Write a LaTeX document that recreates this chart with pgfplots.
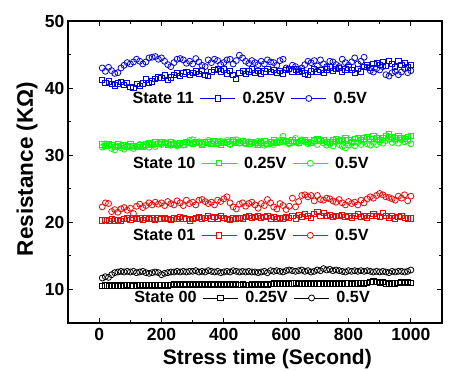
\documentclass[border=0pt]{standalone}
\usepackage{fontspec}
\setmainfont{Liberation Sans}
\usepackage{pgfplots}
\usepackage{pgfplotstable}
\pgfplotsset{compat=1.18}

\pgfplotstableread{
x b25 b5 g25 g5 r25 r5 k25 k5
10 41.2 43.0 31.6 31.2 20.3 22.3 10.5 11.7
20 40.8 42.5 31.4 31.7 20.4 22.9 10.6 11.9
30 41.0 43.1 31.7 31.4 20.2 22.8 10.5 11.8
40 40.6 42.6 31.5 31.0 20.5 21.6 10.6 12.2
50 40.4 42.2 31.3 30.8 20.3 21.9 10.5 12.5
60 40.7 42.3 31.6 31.3 20.4 21.5 10.6 12.6
70 40.9 43.0 31.4 31.1 20.2 22.0 10.5 12.7
80 40.5 43.4 31.5 30.9 20.5 22.2 10.6 12.6
90 40.8 43.8 31.3 31.4 20.6 21.8 10.7 12.7
100 40.2 43.6 31.6 31.2 20.4 22.1 10.6 12.6
110 40.0 43.9 31.4 31.0 20.7 21.3 10.5 12.7
120 40.6 44.3 31.2 31.3 20.5 22.4 10.6 12.5
130 40.3 44.0 31.5 31.6 20.6 22.7 10.7 12.6
140 40.7 43.6 31.3 31.4 20.4 22.2 10.6 12.7
150 41.3 43.9 31.6 31.5 20.7 22.5 10.7 12.5
160 40.8 44.5 31.8 31.2 20.5 22.9 10.6 12.4
170 41.0 44.6 31.5 31.7 20.6 22.6 10.7 12.5
180 41.4 44.7 31.9 31.3 20.4 23.0 10.6 12.6
190 41.6 44.3 31.7 31.8 20.6 22.7 10.7 12.5
200 41.5 44.5 32.0 31.6 20.5 22.9 10.6 12.2
210 41.9 44.0 31.8 31.9 20.7 22.5 10.7 12.4
220 41.2 43.5 31.6 31.7 20.5 23.1 10.6 12.5
230 41.6 43.2 31.9 31.5 20.4 22.8 10.7 12.6
240 42.0 43.8 31.7 31.8 20.6 22.6 10.8 12.6
250 42.3 44.3 31.5 31.4 20.5 23.2 10.7 12.7
260 41.8 44.4 31.8 31.6 20.8 22.9 10.8 12.6
270 42.2 44.2 31.6 31.5 20.6 22.5 10.7 12.7
280 42.4 43.7 32.0 31.9 20.5 23.3 10.8 12.6
290 42.0 44.0 31.8 32.2 20.3 22.8 10.7 12.7
300 42.3 43.6 31.7 32.3 20.5 23.0 10.8 12.7
310 42.5 44.4 32.0 31.8 20.7 22.6 10.7 12.8
320 42.1 43.9 31.8 32.0 20.8 23.3 10.8 12.6
330 42.6 43.4 31.6 31.7 20.6 23.4 10.7 12.7
340 42.0 43.2 32.0 31.9 20.7 23.1 10.8 12.6
350 41.8 44.2 31.9 32.2 20.9 22.8 10.7 12.8
360 42.4 43.8 31.7 31.8 20.6 23.0 10.8 12.7
370 42.7 44.3 32.1 32.0 20.8 22.6 10.7 12.6
380 42.9 44.1 31.9 31.7 20.6 23.3 10.8 12.7
390 42.5 43.5 31.6 32.1 21.0 23.1 10.7 12.5
400 42.8 43.8 31.8 31.9 20.7 23.5 10.8 12.6
410 42.2 44.2 32.0 32.2 20.5 23.8 10.7 12.7
420 42.6 44.3 31.7 31.6 20.4 22.9 10.8 12.6
430 42.0 43.6 32.2 32.0 20.6 22.3 10.7 12.8
440 41.4 44.1 31.9 32.3 20.5 22.0 10.8 12.7
450 42.3 44.9 31.8 31.8 20.7 22.7 10.7 12.6
460 42.6 44.5 32.1 32.1 20.6 22.9 10.8 12.7
470 42.1 44.0 31.9 31.7 20.8 22.4 10.7 12.6
480 42.5 43.7 31.7 32.0 20.9 22.8 10.7 12.7
490 42.8 44.1 32.0 31.9 20.7 23.0 10.8 12.6
500 42.3 43.8 31.8 31.6 20.8 22.6 10.7 12.6
510 42.6 43.5 31.6 32.1 20.9 22.1 10.8 12.5
520 42.2 44.0 31.9 31.8 20.7 22.8 10.7 12.6
530 42.5 43.6 32.1 31.5 20.8 22.5 10.8 12.7
540 42.9 44.2 31.7 31.7 21.0 23.4 10.7 12.5
550 42.4 43.9 31.9 31.9 20.6 22.9 10.8 12.8
560 42.7 43.8 32.2 31.6 20.8 22.3 10.9 12.7
570 42.3 43.4 31.8 32.0 20.5 22.0 10.8 12.8
580 42.6 44.1 32.0 32.2 20.7 22.8 10.9 12.7
590 42.2 44.3 32.3 32.8 20.6 22.5 10.8 12.6
600 42.7 43.0 32.1 32.0 20.8 21.9 10.9 12.8
610 42.9 42.8 31.9 31.7 20.7 22.4 10.8 12.9
620 42.5 43.4 32.2 31.9 20.9 23.6 10.9 12.8
630 42.8 43.2 32.0 32.5 20.6 22.3 11.0 12.7
640 42.4 42.8 31.8 31.8 21.1 23.1 10.8 12.8
650 42.6 43.0 32.1 32.3 20.8 24.0 10.9 12.9
660 42.2 43.5 32.3 32.0 21.3 24.1 10.8 12.7
670 42.0 44.0 32.0 31.7 20.9 23.8 10.9 12.8
680 42.5 43.8 31.8 31.9 20.7 24.0 10.8 12.6
690 42.9 44.1 32.2 32.2 21.2 23.2 10.9 12.7
700 42.4 43.3 32.4 31.6 21.5 24.0 10.8 12.9
710 42.7 44.2 32.1 32.3 21.0 23.4 10.9 12.8
720 42.3 43.6 32.3 31.8 21.4 23.3 10.8 13.1
730 42.8 43.2 32.0 31.5 20.9 23.6 10.9 12.9
740 43.1 44.0 31.9 31.7 21.1 23.5 10.8 13.0
750 42.6 43.9 32.2 31.4 20.8 23.2 10.9 12.8
760 42.9 43.5 32.4 32.0 21.0 23.0 10.8 12.9
770 43.0 43.2 32.1 31.6 20.9 23.4 10.9 12.8
780 42.5 44.3 32.3 31.3 21.1 22.9 10.8 12.7
790 42.8 43.8 32.5 31.1 20.8 22.6 10.9 12.6
800 43.1 43.4 32.2 31.5 21.0 23.1 10.9 12.8
810 42.7 43.9 32.0 31.8 20.7 22.8 10.8 12.7
820 42.3 44.5 32.4 31.4 20.9 23.0 10.9 12.8
830 42.9 43.6 32.6 31.9 21.2 22.6 10.9 12.7
840 42.5 44.0 32.3 31.6 20.8 23.3 11.0 12.8
850 43.2 44.6 32.5 32.0 21.0 22.9 10.9 12.7
860 43.5 43.1 32.7 31.7 20.7 23.5 11.0 12.8
870 43.0 42.6 32.4 31.5 20.9 23.8 11.1 12.7
880 43.6 42.4 32.8 31.9 21.3 23.6 11.2 12.6
890 43.8 42.9 32.5 31.6 21.0 24.0 11.1 12.7
900 43.4 42.7 32.3 32.0 20.8 24.3 11.0 12.6
910 43.9 43.2 32.6 31.8 21.4 24.1 11.1 12.7
920 43.3 42.0 32.9 32.2 21.0 23.8 10.9 12.6
930 44.1 41.8 33.1 32.4 20.7 23.7 10.8 12.5
940 43.6 42.3 32.7 31.9 20.9 23.5 10.9 12.7
950 43.2 42.5 32.5 32.2 20.6 23.3 10.9 12.6
960 44.0 42.0 32.8 31.8 20.8 23.9 11.0 12.7
970 43.5 42.4 32.6 32.3 21.0 23.6 11.1 12.7
980 43.8 42.9 32.4 32.0 20.7 24.1 11.0 12.6
990 43.1 42.3 32.7 32.1 20.6 23.2 11.1 12.7
1000 43.4 42.6 32.9 31.7 20.6 23.9 11.0 12.9
}\datatable

\pgfplotsset{
  base/.style={
    scale only axis, width=374pt, height=302pt,
    at={(0pt,0pt)}, anchor=south west,
    xmin=-100, xmax=1100, ymin=5, ymax=50,
  },
  leg/.style={
    legend columns=3,
    legend style={draw=none, fill=none, inner sep=0pt,
      font=\fontsize{16.2}{19}\selectfont\bfseries,
      nodes={inner sep=0pt},
      /tikz/every odd column/.style={column sep=7pt},
      /tikz/every even column/.style={column sep=6pt},
      at={(axis cs:#1)}, anchor=west},
    legend image code/.code={\draw[mark repeat=2,mark phase=2,##1] plot coordinates {(0pt,0pt) (17.5pt,0pt) (35pt,0pt)};},
  },
  sq/.style={only marks, mark=square, mark size=2.6pt, mark options={line width=0.8pt, fill=none}, forget plot},
  ci/.style={only marks, mark=o, mark size=3pt, mark options={line width=0.8pt, fill=none}, forget plot},
  lsq/.style={line width=0.8pt, mark=square*, mark size=2.6pt, mark options={fill=white, line width=0.8pt}},
  lci/.style={line width=0.8pt, mark=*, mark size=3pt, mark options={fill=white, line width=0.8pt}},
}

\begin{document}
\begin{tikzpicture}
\begin{axis}[base, leg={84,38.46},
  axis line style={line width=1.2pt},
  every tick/.style={black, line width=1pt},
  major tick length=5pt, minor tick length=3pt,
  tick align=inside,
  xtick={0,200,...,1000}, minor xtick={100,300,...,900},
  ytick={10,20,...,50}, minor ytick={15,25,...,45},
  tick label style={font=\fontsize{17.5}{20}\selectfont\bfseries},
  xticklabel style={inner sep=1pt, yshift=-4.5pt},
  /pgf/number format/assume math mode=true,
  /pgf/number format/1000 sep={},
  xlabel={Stress time (Second)},
  xlabel style={at={(axis description cs:0.533,-0.1358)}, anchor=base, inner sep=0pt, font=\fontsize{21}{25}\selectfont\bfseries},
  ylabel={Resistance (KΩ)},
  ylabel style={at={(axis description cs:-0.094,0.51)}, anchor=base, inner sep=0pt, font=\fontsize{22.5}{26}\selectfont\bfseries},
]
\addplot[blue, sq] table[x=x, y=b25] {\datatable};
\addplot[blue, ci] table[x=x, y=b5] {\datatable};
\addplot[green, sq] table[x=x, y=g25] {\datatable};
\addplot[green, ci] table[x=x, y=g5] {\datatable};
\addplot[red, sq] table[x=x, y=r25] {\datatable};
\addplot[red, ci] table[x=x, y=r5] {\datatable};
\addplot[black, sq] table[x=x, y=k25] {\datatable};
\addplot[black, ci] table[x=x, y=k5] {\datatable};
\addlegendimage{empty legend}\addlegendentry{State 11}
\addlegendimage{blue, lsq}\addlegendentry{0.25V}
\addlegendimage{blue, lci}\addlegendentry{0.5V}
\end{axis}
\begin{axis}[base, hide axis, leg={86,28.8}]
\addlegendimage{empty legend}\addlegendentry{State 10}
\addlegendimage{green, lsq}\addlegendentry{0.25V}
\addlegendimage{green, lci}\addlegendentry{0.5V}
\end{axis}
\begin{axis}[base, hide axis, leg={86,18.06}]
\addlegendimage{empty legend}\addlegendentry{State 01}
\addlegendimage{red, lsq}\addlegendentry{0.25V}
\addlegendimage{red, lci}\addlegendentry{0.5V}
\end{axis}
\begin{axis}[base, hide axis, leg={90,8.73}]
\addlegendimage{empty legend}\addlegendentry{State 00}
\addlegendimage{black, lsq}\addlegendentry{0.25V}
\addlegendimage{black, lci}\addlegendentry{0.5V}
\end{axis}
\pgfresetboundingbox
\path[use as bounding box] (-68pt,-47pt) rectangle (385pt,323pt);
\end{tikzpicture}
\end{document}
